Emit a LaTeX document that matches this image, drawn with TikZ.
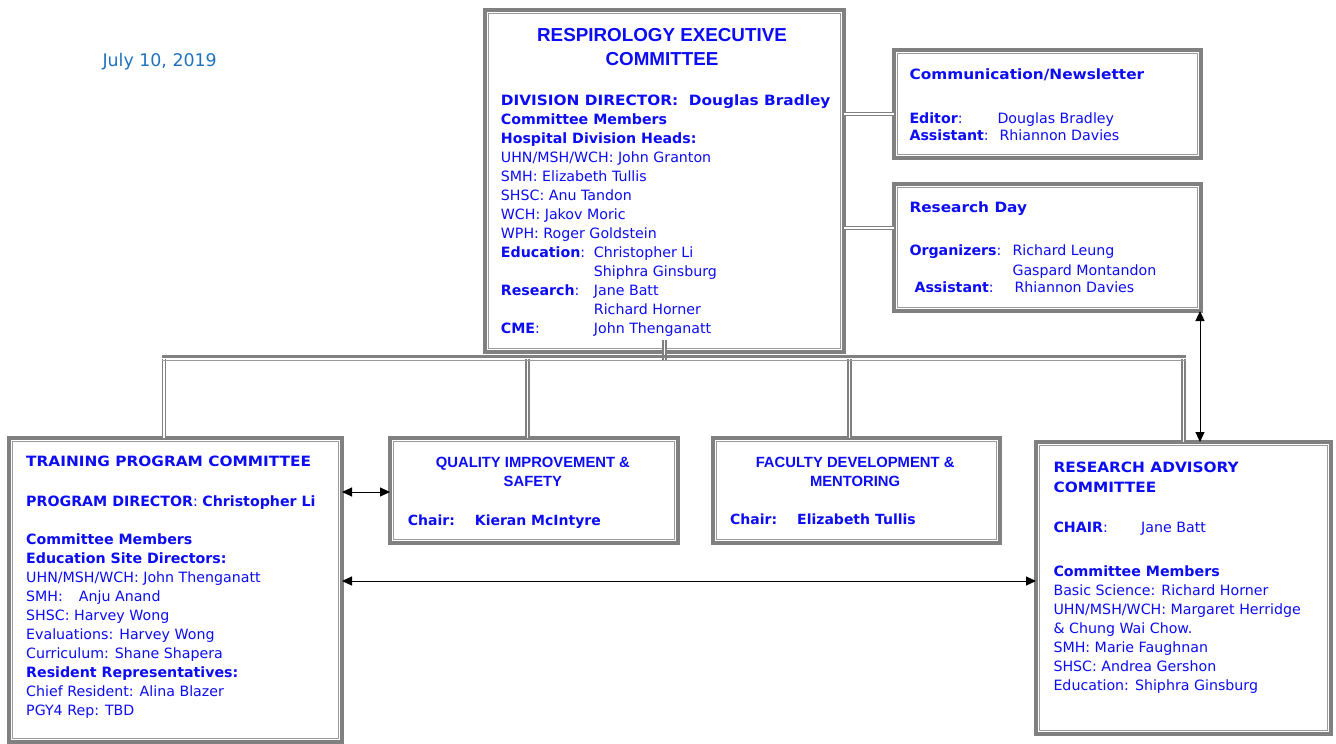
\documentclass[tikz,border=0pt]{standalone}
\usepackage{fontspec}
\setmainfont{DejaVu Sans}
\newfontfamily\arialfont{Liberation Sans}
\newfontfamily\widebold{DejaVu Sans Bold}[FakeStretch=1.08]
\usetikzlibrary{arrows.meta,positioning}

\definecolor{ink}{RGB}{12,12,245}
\definecolor{dateblue}{RGB}{30,115,190}
\definecolor{framegray}{RGB}{128,128,128}
\definecolor{rulegray}{RGB}{155,155,155}

\tikzset{
  orgbox/.style={draw=framegray, line width=3.4pt, anchor=north west, inner sep=0pt, outer sep=0pt},
  innerline/.style={draw=rulegray, line width=0.9pt},
  link/.style={draw=framegray, line width=1.3pt, double=white, double distance=1.5pt},
  busline/.style={draw=framegray, line width=3pt},
  busrule/.style={draw=rulegray, line width=1pt},
  arr/.style={{Triangle[length=10pt,width=9pt]}-{Triangle[length=10pt,width=9pt]}, line width=1pt},
  txt/.style={text=ink, inner sep=0pt, align=left, anchor=north west, font=\fontsize{14.2}{19}\selectfont},
  headtxt/.style={text=ink, inner sep=0pt, align=center, anchor=north, font=\arialfont\bfseries\fontsize{18.8}{24}\selectfont},
  subhead/.style={text=ink, inner sep=0pt, align=center, anchor=north, font=\arialfont\bfseries\fontsize{14.8}{19.5}\selectfont},
  chairtxt/.style={text=ink, inner sep=0pt, anchor=base west, font=\bfseries\fontsize{14}{19}\selectfont}
}

\begin{document}
\begin{tikzpicture}[x=1pt, y=-1pt]
  \path[use as bounding box, fill=white] (0,0) rectangle (1336,744);

  % boxes
  \node[orgbox, minimum width=359, minimum height=342] (rec) at (485,10) {};
  \node[orgbox, minimum width=307, minimum height=108] (comm) at (894,50) {};
  \node[orgbox, minimum width=307, minimum height=127] (rday) at (894,184) {};
  \node[orgbox, minimum width=333, minimum height=304] (tpc) at (9,438) {};
  \node[orgbox, minimum width=288, minimum height=105] (qis) at (390,438) {};
  \node[orgbox, minimum width=287, minimum height=105] (fdm) at (713,438) {};
  \node[orgbox, minimum width=295, minimum height=292] (rac) at (1036,442) {};
  \foreach \b in {rec,comm,rday,tpc,qis,fdm,rac}
    \draw[innerline] ([shift={(3.7,3.7)}]\b.north west) rectangle ([shift={(-3.7,-3.7)}]\b.south east);

  \node[text=dateblue, inner sep=0pt, anchor=base west, font=\fontsize{17.4}{21}\selectfont] (date) at (102.3,66.7) {July 10, 2019};

  % executive committee
  \node[headtxt] (recHead) at (662,24.9) {\strut RESPIROLOGY EXECUTIVE\\COMMITTEE};
  \node[txt] (recBody) at (500.7,92) {\strut{\widebold DIVISION DIRECTOR:\ \ Douglas Bradley}\\
    \textbf{Committee Members}\\
    \textbf{Hospital Division Heads:}\\
    UHN/MSH/WCH: John Granton\\
    SMH: Elizabeth Tullis\\
    SHSC: Anu Tandon\\
    WCH: Jakov Moric\\
    WPH: Roger Goldstein\\
    \makebox[93pt][l]{\textbf{Education}:}Christopher Li\\
    \hspace*{93pt}Shiphra Ginsburg\\
    \makebox[93pt][l]{\textbf{Research}:}Jane Batt\\
    \hspace*{93pt}Richard Horner\\
    \makebox[93pt][l]{\textbf{CME}:}John Thenganatt};

  % side boxes
  \node[txt] (commBody) at (909.3,66) {\strut{\widebold Communication/Newsletter}\\[25pt]
    \makebox[88pt][l]{\textbf{Editor}:}Douglas Bradley\\[-2.3pt]
    \makebox[90pt][l]{\textbf{Assistant}:}Rhiannon Davies};
  \node[txt] (rdayBody) at (909.3,199.4) {\strut{\widebold Research Day}\\[23.3pt]
    \makebox[103pt][l]{\textbf{Organizers}:}Richard Leung\\[1pt]
    \hspace*{103pt}Gaspard Montandon\\[-1.3pt]
    \hspace*{5pt}\makebox[100pt][l]{\textbf{Assistant}:}Rhiannon Davies};

  % lower boxes
  \node[txt] (tpcBody) at (26,453.4) {\strut{\widebold TRAINING PROGRAM COMMITTEE}\\[20.3pt]
    \textbf{PROGRAM DIRECTOR}: \textbf{Christopher Li}\\[19.3pt]
    \textbf{Committee Members}\\
    \textbf{Education Site Directors:}\\
    UHN/MSH/WCH: John Thenganatt\\
    \makebox[52.7pt][l]{SMH:}Anju Anand\\
    SHSC: Harvey Wong\\
    Evaluations: Harvey Wong\\
    Curriculum: Shane Shapera\\
    \textbf{Resident Representatives:}\\
    Chief Resident: Alina Blazer\\
    PGY4 Rep: TBD};
  \node[subhead] (qisHead) at (532.9,453.5) {\strut QUALITY IMPROVEMENT \&\\SAFETY};
  \node[chairtxt] (qisChair) at (407.7,525) {\makebox[67pt][l]{Chair:}Kieran McIntyre};
  \node[subhead] (fdmHead) at (855.1,453.5) {\strut FACULTY DEVELOPMENT \&\\MENTORING};
  \node[chairtxt] (fdmChair) at (730,524) {\makebox[67pt][l]{Chair:}Elizabeth Tullis};
  \node[txt] (racBody) at (1053.3,459.4) {\strut{\widebold RESEARCH ADVISORY}\\[1pt]
    {\widebold COMMITTEE}\\[20.6pt]
    \makebox[87.7pt][l]{\textbf{CHAIR}:}Jane Batt\\[25.4pt]
    \textbf{Committee Members}\\
    Basic Science: Richard Horner\\
    UHN/MSH/WCH: Margaret Herridge\\
    \& Chung Wai Chow.\\
    SMH: Marie Faughnan\\
    SHSC: Andrea Gershon\\
    Education: Shiphra Ginsburg};

  % connectors
  \coordinate (bus) at (0,356);
  \draw[link] ([yshift=-10]comm.west -| rec.east) -- ([yshift=-10]comm.west);
  \draw[link] ([yshift=19.5]rday.west -| rec.east) -- ([yshift=19.5]rday.west);
  \draw[link] ([yshift=12]rec.south) -- ([yshift=-4]rec.south |- bus);
  \foreach \n/\dx in {tpc/-11.5, qis/-6.5, fdm/-7, rac/0}
    \draw[link] ([xshift=\dx, yshift=-3]\n.north |- bus) -- ([xshift=\dx]\n.north);
  \draw[busline] ([xshift=-13.5]tpc.north |- bus) -- ([xshift=2]rac.north |- bus);
  \draw[busrule] ([xshift=-13.5, yshift=-4.5]tpc.north |- bus) -- ([xshift=2, yshift=-4.5]rac.north |- bus);

  \draw[arr] ([xshift=-1]rday.south east) -- ([xshift=-1]rday.south east |- rac.north);
  \draw[arr] ([yshift=-1.5]qis.west -| tpc.east) -- ([yshift=-1.5]qis.west);
  \draw[arr] ([yshift=9]tpc.east) -- ([yshift=9]tpc.east -| rac.west);
\end{tikzpicture}
\end{document}
